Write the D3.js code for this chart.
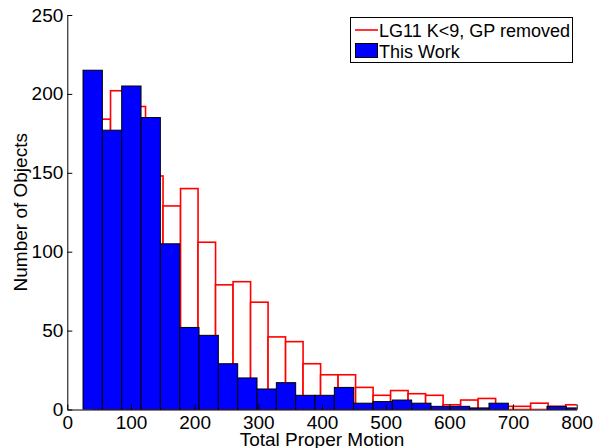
<!DOCTYPE html>
<html><head><meta charset="utf-8">
<script src="https://cdn.jsdelivr.net/npm/d3@7"></script>
<style>body{margin:0;background:#fff}svg{display:block}text{font-family:"Liberation Sans",Arial,sans-serif}</style>
</head><body>
<svg id="c" width="598" height="448"></svg>
<script>
// Data
const xTicks = [0,100,200,300,400,500,600,700,800];
const yTicks = [0,50,100,150,200,250];
const blueBinStart = 24.7, blueBinWidth = 30.36;
const blueCounts = [215,177,205,185,105,52,47,29,20,13,17,9,9,14,4,5,6,4,2,2,1,4,0,0,2,1];
const redBinStart = 40.4, redBinWidth = 27.49;
const redCounts = [184,202,192,148,129,140,106,79,81,68,46,43,29,22,22,14,9,12,10,9,3,6,7,2,2,4,2,3];
const seriesNames = ["LG11 K<9, GP removed","This Work"];

const svg = d3.select("#c");
const x = d3.scaleLinear().domain([0,800]).range([67.3,576.7]);
const y = d3.scaleLinear().domain([0,250]).range([409.5,15]);

svg.append("defs").append("clipPath").attr("id","clip")
  .append("rect").attr("x",x(0)).attr("y",0).attr("width",x(800)-x(0)).attr("height",y(0));

const g = svg.append("g").attr("clip-path","url(#clip)");
const red = redCounts.map((c,i)=>({x0:redBinStart+i*redBinWidth,x1:redBinStart+(i+1)*redBinWidth,c}));
const blue = blueCounts.map((c,i)=>({x0:blueBinStart+i*blueBinWidth,x1:blueBinStart+(i+1)*blueBinWidth,c}));

g.selectAll("rect.red").data(red).join("rect").attr("class","red")
  .attr("x",d=>x(d.x0)).attr("width",d=>x(d.x1)-x(d.x0))
  .attr("y",d=>y(d.c)).attr("height",d=>y(0)-y(d.c))
  .attr("fill","#fff").attr("stroke","#ff0000").attr("stroke-width",1.6);

g.selectAll("rect.blue").data(blue).join("rect").attr("class","blue")
  .attr("x",d=>x(d.x0)).attr("width",d=>x(d.x1)-x(d.x0))
  .attr("y",d=>y(d.c)).attr("height",d=>y(0)-y(d.c))
  .attr("fill","#0000ff").attr("stroke","#000").attr("stroke-width",1);

const fs = 19;
const xa = svg.append("g").attr("transform",`translate(0,${y(0)})`)
  .call(d3.axisBottom(x).tickValues(xTicks).tickSizeInner(-5).tickSizeOuter(0).tickPadding(6));
const ya = svg.append("g").attr("transform",`translate(${x(0)},0)`)
  .call(d3.axisLeft(y).tickValues(yTicks).tickSizeInner(-5).tickSizeOuter(0).tickPadding(4));
[xa,ya].forEach(a=>{
  a.selectAll("path,line").attr("stroke","#000");
  a.selectAll("text").attr("font-size",fs).attr("font-family","Liberation Sans, Arial, sans-serif").attr("fill","#000");
});

svg.append("text").attr("x",(x(0)+x(800))/2).attr("y",446).attr("text-anchor","middle")
  .attr("font-size",fs).text("Total Proper Motion");
svg.append("text").attr("transform",`translate(27,${(y(0)+y(250))/2}) rotate(-90)`).attr("text-anchor","middle")
  .attr("font-size",fs).text("Number of Objects");

// Legend
const lg = svg.append("g");
lg.append("rect").attr("x",350.5).attr("y",17.5).attr("width",222).attr("height",45)
  .attr("fill","#fff").attr("stroke","#000");
lg.append("line").attr("x1",355).attr("x2",378).attr("y1",30).attr("y2",30).attr("stroke","#ff0000").attr("stroke-width",1.6);
lg.append("text").attr("x",379).attr("y",36.5).attr("font-size",18).text(seriesNames[0]);
lg.append("rect").attr("x",355.5).attr("y",43.5).attr("width",22).attr("height",14).attr("fill","#0000ff").attr("stroke","#000");
lg.append("text").attr("x",379).attr("y",57.5).attr("font-size",18).text(seriesNames[1]);
</script>
</body></html>
